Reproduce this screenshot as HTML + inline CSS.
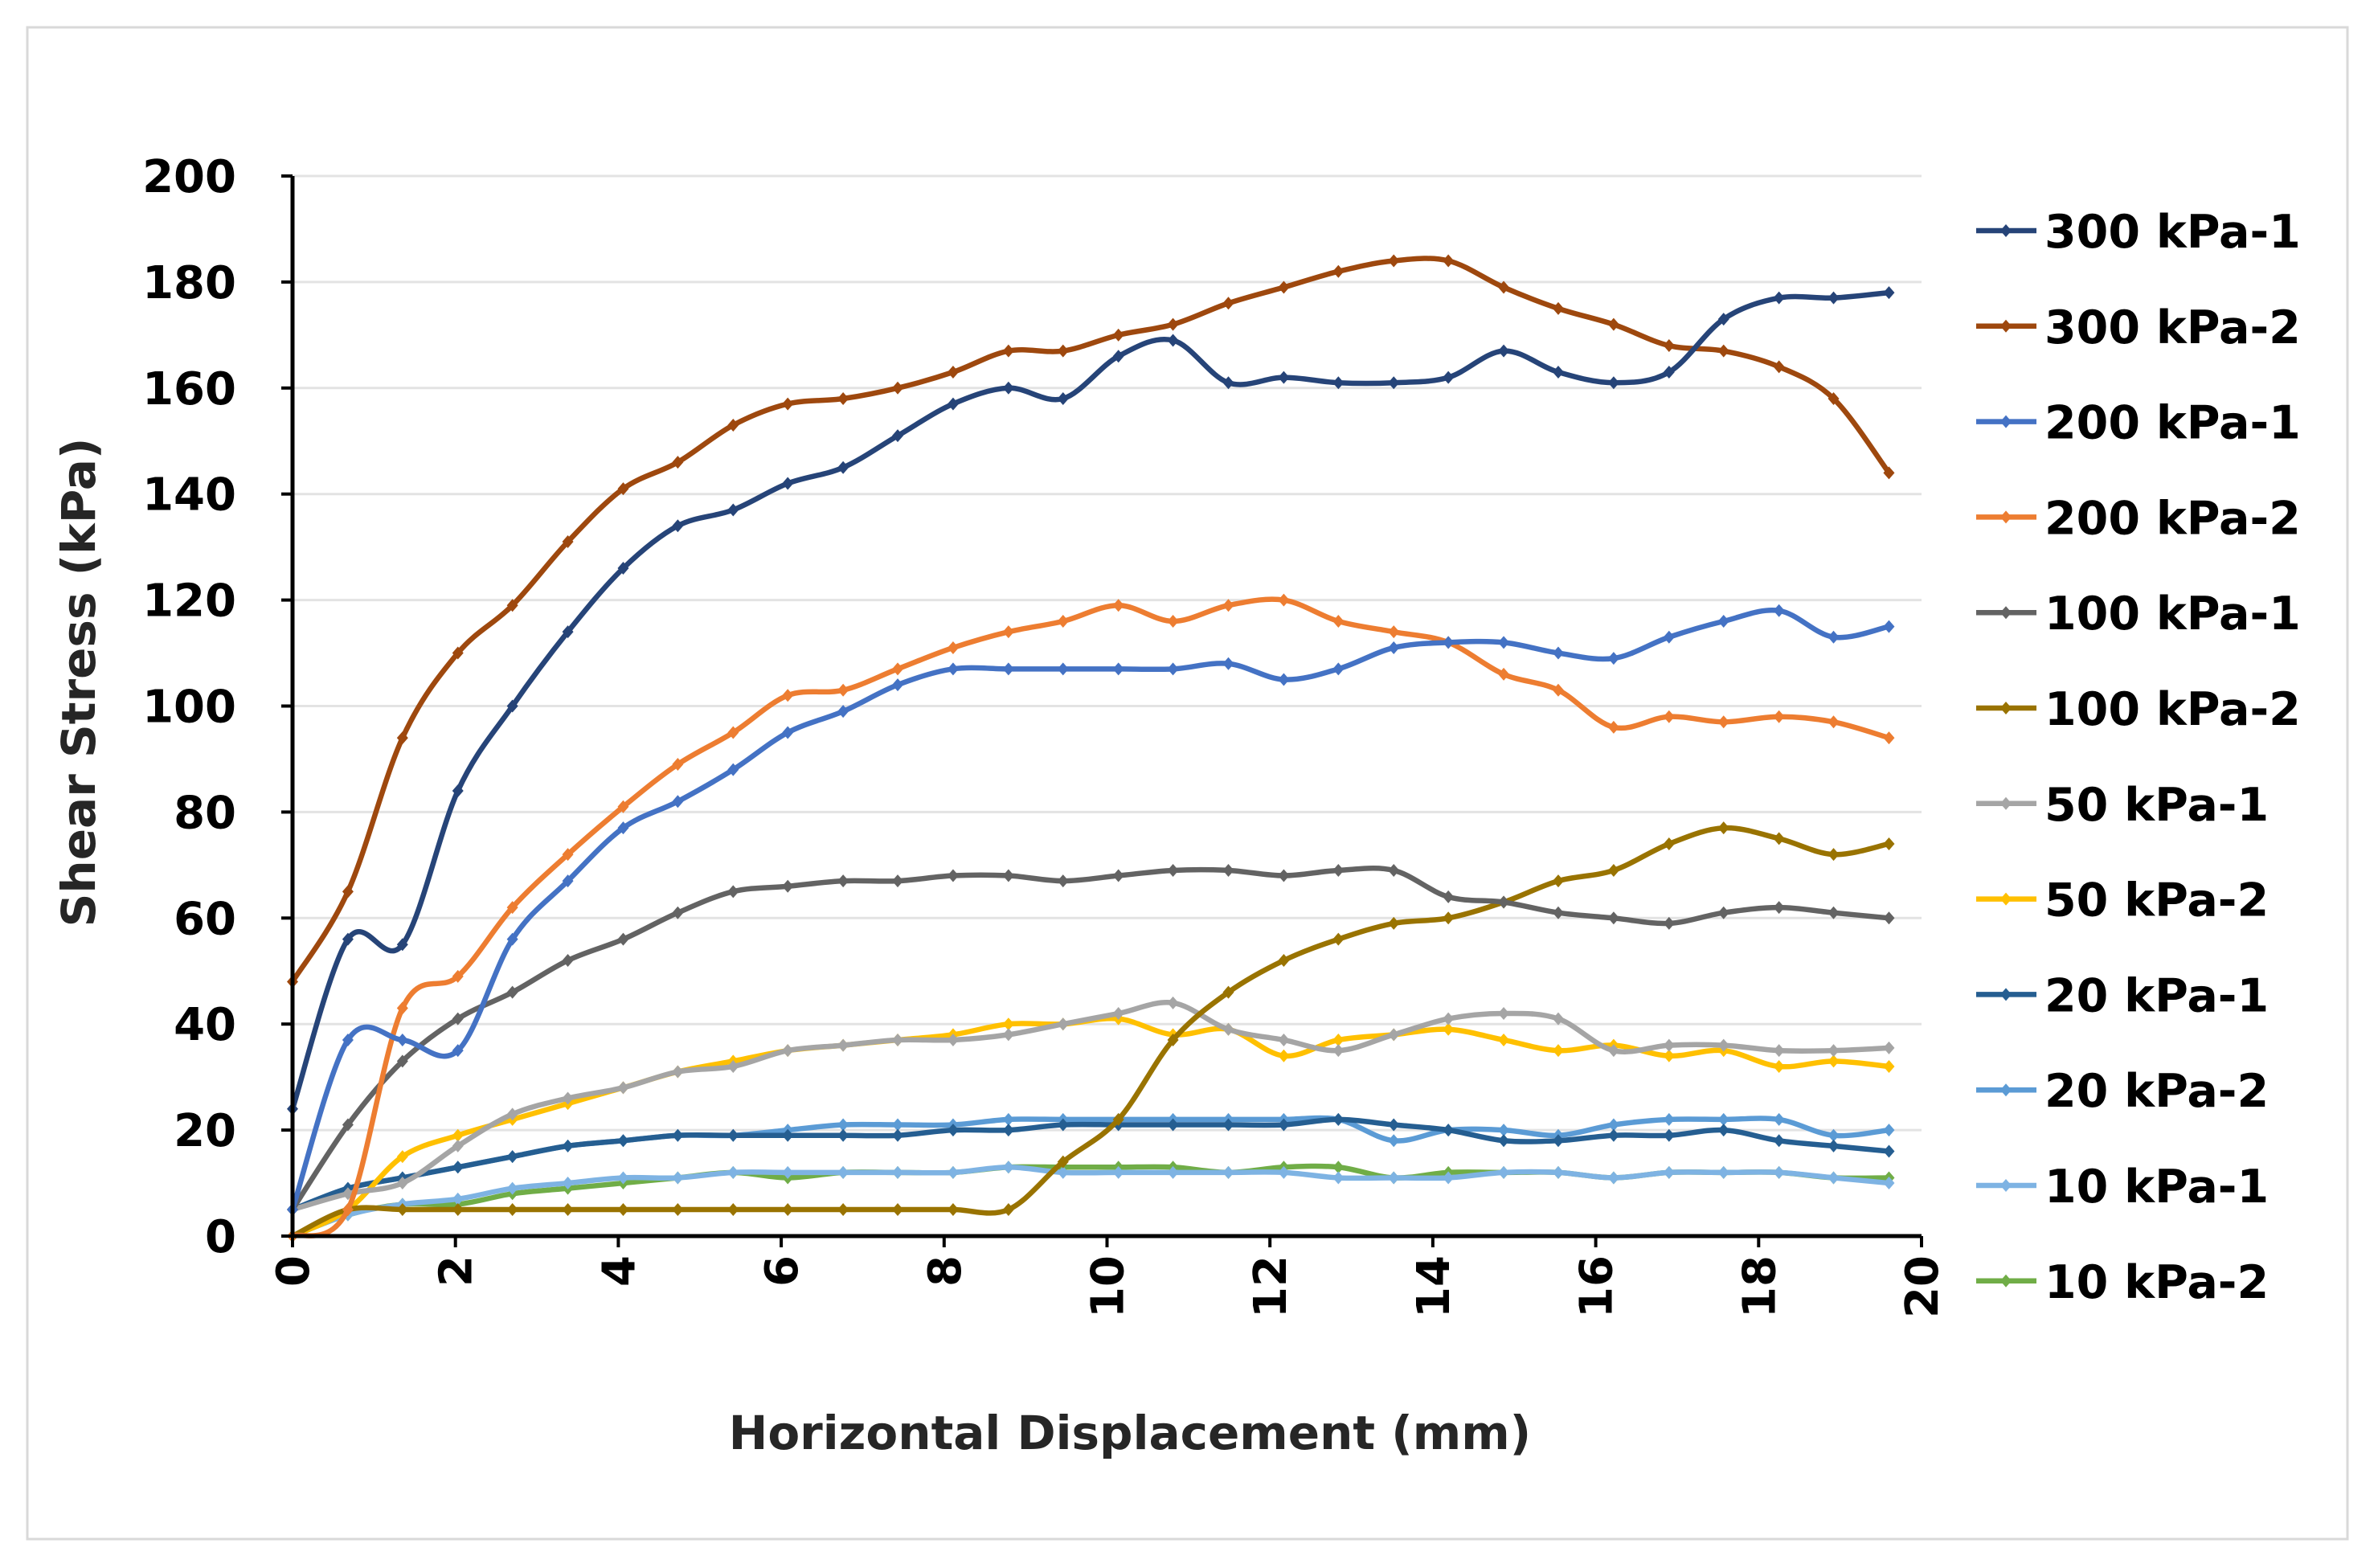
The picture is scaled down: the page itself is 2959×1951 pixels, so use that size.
<!DOCTYPE html>
<html><head><meta charset="utf-8"><style>
html,body{margin:0;padding:0;background:#fff;}
svg{display:block;font-family:"DejaVu Sans","Liberation Sans",sans-serif;}
</style></head><body>
<svg id="chart" width="2959" height="1951" viewBox="0 0 2959 1951" xmlns="http://www.w3.org/2000/svg">
<rect x="34" y="34" width="2887" height="1881" fill="#fff" stroke="#d9d9d9" stroke-width="3"/>
<g id="grid"></g>
<g id="series"></g>
<g id="axes"></g>
<g id="legend"></g>
<text x="1406" y="1803" text-anchor="middle" font-size="58" font-weight="bold" fill="#262626">Horizontal Displacement (mm)</text>
<text transform="translate(118,849) rotate(-90)" text-anchor="middle" font-size="58" font-weight="bold" fill="#262626">Shear Stress (kPa)</text>
</svg>
<script>
const xValues=[0,0.68,1.35,2.03,2.7,3.38,4.06,4.73,5.41,6.08,6.76,7.43,8.11,8.79,9.46,10.14,10.81,11.49,12.17,12.84,13.52,14.19,14.87,15.54,16.22,16.9,17.57,18.25,18.92,19.6];
const seriesNames=["300 kPa-1","300 kPa-2","200 kPa-1","200 kPa-2","100 kPa-1","100 kPa-2","50 kPa-1","50 kPa-2","20 kPa-1","20 kPa-2","10 kPa-1","10 kPa-2"];
const s300a=[24,56,55,84,100,114,126,134,137,142,145,151,157,160,158,166,169,161,162,161,161,162,167,163,161,163,173,177,177,178];
const s300b=[48,65,94,110,119,131,141,146,153,157,158,160,163,167,167,170,172,176,179,182,184,184,179,175,172,168,167,164,158,144];
const s200a=[5,37,37,35,56,67,77,82,88,95,99,104,107,107,107,107,107,108,105,107,111,112,112,110,109,113,116,118,113,115];
const s200b=[0,5,43,49,62,72,81,89,95,102,103,107,111,114,116,119,116,119,120,116,114,112,106,103,96,98,97,98,97,94];
const s100a=[5,21,33,41,46,52,56,61,65,66,67,67,68,68,67,68,69,69,68,69,69,64,63,61,60,59,61,62,61,60];
const s100b=[0,5,5,5,5,5,5,5,5,5,5,5,5,5,14,22,37,46,52,56,59,60,63,67,69,74,77,75,72,74];
const s50a=[5,8,10,17,23,26,28,31,32,35,36,37,37,38,40,42,44,39,37,35,38,41,42,41,35,36,36,35,35,35.5];
const s50b=[0,5,15,19,22,25,28,31,33,35,36,37,38,40,40,41,38,39,34,37,38,39,37,35,36,34,35,32,33,32];
const s20a=[5,9,11,13,15,17,18,19,19,19,19,19,20,20,21,21,21,21,21,22,21,20,18,18,19,19,20,18,17,16];
const s20b=[5,9,11,13,15,17,18,19,19,20,21,21,21,22,22,22,22,22,22,22,18,20,20,19,21,22,22,22,19,20];
const s10a=[0,4,6,7,9,10,11,11,12,12,12,12,12,13,12,12,12,12,12,11,11,11,12,12,11,12,12,12,11,10];
const s10b=[0,4,6,6,8,9,10,11,12,11,12,12,12,13,13,13,13,12,13,13,11,12,12,12,11,12,12,12,11,11];
const allSeries=[s300a,s300b,s200a,s200b,s100a,s100b,s50a,s50b,s20a,s20b,s10a,s10b];
const colors=["#264478","#9E480E","#4472C4","#ED7D31","#636363","#997300","#A5A5A5","#FFC000","#255E91","#5B9BD5","#7EB3E3","#70AD47"];
const yTicks=[0,20,40,60,80,100,120,140,160,180,200];
const xTicks=[0,2,4,6,8,10,12,14,16,18,20];

const NS="http://www.w3.org/2000/svg";
const X0=364,X1=2391,Y0=1538,Y1=219;
function xs(v){return X0+(X1-X0)*v/20;}
function ys(v){return Y0-(Y0-Y1)*v/200;}
function mk(tag,attrs,parent){const e=document.createElementNS(NS,tag);for(const k in attrs)e.setAttribute(k,attrs[k]);parent.appendChild(e);return e;}
const grid=document.getElementById('grid'),axes=document.getElementById('axes'),ser=document.getElementById('series'),leg=document.getElementById('legend');

yTicks.forEach(t=>{
  if(t>0){const g=mk('line',{x1:X0,x2:X1,y1:ys(t),y2:ys(t),stroke:'#e3e3e3','stroke-width':3},grid);
  
  }
  const tk=mk('line',{x1:X0-14,x2:X0,y1:ys(t),y2:ys(t),stroke:'#000','stroke-width':4},axes);
  
  
  const l=mk('text',{x:X0-70,y:ys(t)+20,'text-anchor':'end','font-size':56,'font-weight':'bold',fill:'#000'},axes);
  l.textContent=t;
  
  
});
xTicks.forEach(t=>{
  const tk=mk('line',{x1:xs(t),x2:xs(t),y1:Y0,y2:Y0+14,stroke:'#000','stroke-width':4},axes);
  
  
  const l=mk('text',{transform:`translate(${xs(t)+20},${Y0+24}) rotate(-90)`,'text-anchor':'end','font-size':56,'font-weight':'bold',fill:'#000'},axes);
  l.textContent=t;
  
  
});
const ya=mk('line',{x1:X0,x2:X0,y1:Y1,y2:Y0,stroke:'#000','stroke-width':5},axes);


const xa=mk('line',{x1:X0,x2:X1,y1:Y0,y2:Y0,stroke:'#000','stroke-width':5},axes);



function smooth(pts){
  let d=`M${pts[0][0]},${pts[0][1]}`;
  for(let i=0;i<pts.length-1;i++){
    const p0=pts[i-1]||pts[i],p1=pts[i],p2=pts[i+1],p3=pts[i+2]||p2;
    const c1x=p1[0]+(p2[0]-p0[0])/6,c1y=p1[1]+(p2[1]-p0[1])/6;
    const c2x=p2[0]-(p3[0]-p1[0])/6,c2y=p2[1]-(p3[1]-p1[1])/6;
    d+=` C${c1x},${c1y} ${c2x},${c2y} ${p2[0]},${p2[1]}`;
  }
  return d;
}
for(let s=allSeries.length-1;s>=0;s--){
  const vals=allSeries[s];
  const pts=vals.map((v,i)=>[xs(xValues[i]),ys(v)]);
  const p=mk('path',{d:smooth(pts),fill:'none',stroke:colors[s],'stroke-width':6.5,'stroke-linejoin':'round'},ser);
  
  
  pts.forEach(q=>{
    const m=mk('path',{d:`M${q[0]},${q[1]-8} L${q[0]+7},${q[1]} L${q[0]},${q[1]+8} L${q[0]-7},${q[1]} Z`,fill:colors[s]},ser);
    
    
  });
}
seriesNames.forEach((n,i)=>{
  const y=287+i*118.8;
  const g=mk('g',{},leg);
  
  
  mk('line',{x1:2459,x2:2534,y1:y,y2:y,stroke:colors[i],'stroke-width':6.5},g);
  mk('path',{d:`M2496,${y-8} L2503,${y} L2496,${y+8} L2489,${y} Z`,fill:colors[i]},g);
  const t=mk('text',{x:2544,y:y+21,'font-size':57,'font-weight':'bold',fill:'#000'},g);
  t.textContent=n;
});
</script>
</body></html>
